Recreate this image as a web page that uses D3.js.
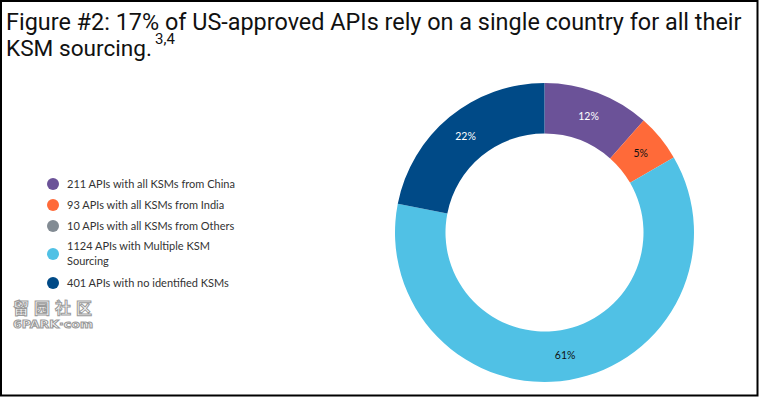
<!DOCTYPE html>
<html>
<head>
<meta charset="utf-8">
<script src="https://cdn.jsdelivr.net/npm/d3@7"></script>
<style>
  body { margin: 0; background: #fff; }
</style>
</head>
<body>
<div id="wrapper"></div>
<script>
const categories = [
  "211 APIs with all KSMs from China",
  "93 APIs with all KSMs from India",
  "10 APIs with all KSMs from Others",
  "1124 APIs with Multiple KSM\nSourcing",
  "401 APIs with no identified KSMs"
]
const counts = [211, 93, 10, 1124, 401]
// the ring in the source leaves out the "Others" group
const inRing = [true, true, false, true, true]
const colors = ["#6b5298", "#ff6a39", "#828b93", "#50c1e5", "#004a87"]
const labelColors = ["#fff", "#111", "#111", "#111", "#fff"]

const titleLines = ["Figure #2: 17% of US-approved APIs rely on a single country for all their", "KSM sourcing."]
const footnote = "3,4"

let dimensions = {
  width: 759,
  height: 397,
  cx: 544.5,
  cy: 232.5,
  outer: 149.5,
  inner: 99
}

const data = counts.map((v, i) => ({key: categories[i], value: v, color: colors[i], label: labelColors[i], ring: inRing[i]}))
const ringData = data.filter(d => d.ring)
const total = d3.sum(ringData, d => d.value)

const svg = d3.select("#wrapper")
  .append("svg")
  .attr("width", dimensions.width)
  .attr("height", dimensions.height)

// frame
svg.append("rect")
  .attr("x", 1).attr("y", 1)
  .attr("width", 756.5).attr("height", 394.5)
  .attr("fill", "none")
  .attr("stroke", "#000")
  .attr("stroke-width", 2)

// title, one text element with a tspan per line
const title = svg.append("text")
  .attr("font-family", "'Liberation Sans Narrow', Roboto, sans-serif")
  .attr("font-size", 25)
  .attr("fill", "#111")
const t1 = title.append("tspan")
  .attr("x", 6).attr("y", 30)
  .text(titleLines[0])
const t2 = title.append("tspan")
  .attr("x", 6).attr("y", 56)
  .text(titleLines[1])
title.append("tspan")
  .attr("x", 155).attr("y", 44)
  .attr("font-size", 15)
  .text(footnote)

// fit the lines to the widths seen in the source
function fitLine(sel, target) {
  const w = sel.node().getComputedTextLength()
  if (w > target) {
    sel.attr("font-size", 25 * target / w)
  } else {
    sel.attr("textLength", target).attr("lengthAdjust", "spacingAndGlyphs")
  }
}
fitLine(t1, 736)
fitLine(t2, 146)

// donut
const pie = d3.pie().sort(null).value(d => d.value)
const arc = d3.arc().innerRadius(dimensions.inner).outerRadius(dimensions.outer)
const arcs = pie(ringData)

const donut = svg.append("g")
  .attr("transform", `translate(${dimensions.cx},${dimensions.cy})`)

donut.selectAll("path")
  .data(arcs)
  .enter()
  .append("path")
    .attr("d", arc)
    .attr("fill", d => d.data.color)

donut.selectAll(".pct")
  .data(arcs)
  .enter()
  .append("text")
    .attr("class", "pct")
    .attr("transform", d => `translate(${arc.centroid(d)})`)
    .attr("text-anchor", "middle")
    .attr("dy", "0.35em")
    .attr("font-family", "Lato, sans-serif")
    .attr("font-size", 10.5)
    .attr("fill", d => d.data.label)
    .text(d => Math.round(d.data.value / total * 100) + "%")

// legend
const legendY = [184, 205, 226, 254, 283]
const legend = svg.append("g")
  .attr("font-family", "Lato, sans-serif")
  .attr("font-size", 11)
  .attr("fill", "#333")

const item = legend.selectAll("g")
  .data(data)
  .enter()
  .append("g")
    .attr("transform", (d, i) => `translate(53,${legendY[i]})`)

item.append("circle")
  .attr("r", 6)
  .attr("fill", d => d.color)

item.each(function(d) {
  const lines = d.key.split("\n")
  const t = d3.select(this).append("text")
    .attr("x", 14)
  lines.forEach((l, j) => {
    t.append("tspan")
      .attr("x", 14)
      .attr("y", (j - (lines.length - 1) / 2) * 15)
      .attr("dy", "0.35em")
      .text(l)
  })
})

// watermark
const wm = svg.append("g")
  .attr("fill", "#fff")
  .attr("stroke", "#9a9a9a")
  .attr("stroke-width", 1)
wm.append("text")
  .attr("x", 13).attr("y", 314)
  .attr("font-family", "'Noto Sans CJK SC', sans-serif")
  .attr("font-size", 16)
  .attr("font-weight", "bold")
  .attr("letter-spacing", 5)
  .text("留园社区")
wm.append("text")
  .attr("x", 13).attr("y", 328)
  .attr("font-family", "'DejaVu Sans', sans-serif")
  .attr("font-size", 11)
  .attr("font-weight", "bold")
  .attr("textLength", 80)
  .attr("lengthAdjust", "spacingAndGlyphs")
  .text("6PARK·com")
</script>
</body>
</html>
